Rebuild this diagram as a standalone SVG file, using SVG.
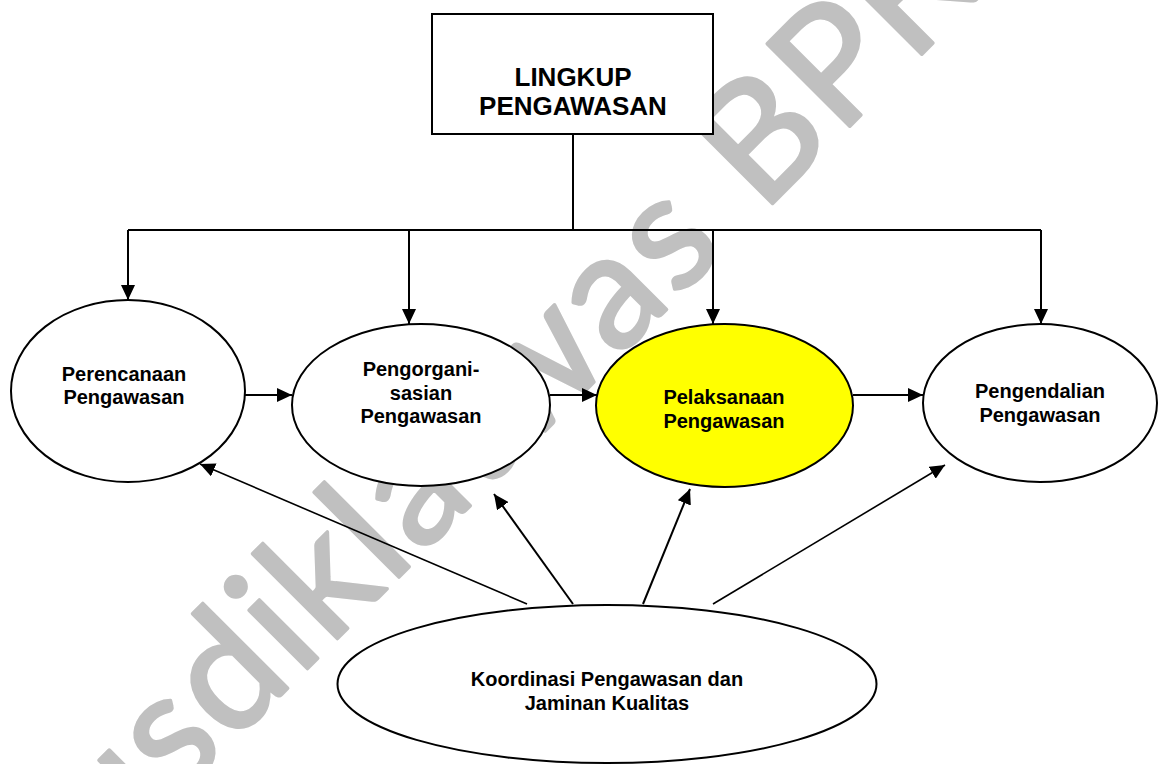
<svg xmlns="http://www.w3.org/2000/svg" width="1161" height="764" viewBox="0 0 1161 764">
<style>
.node{fill:#fff;stroke:#000;stroke-width:2}
.hl{fill:#ffff00}
.lbl{font-family:"Liberation Sans",Arial,sans-serif;font-weight:bold;font-size:20px;fill:#000;text-anchor:middle}
.ttl{font-size:26px}
.con{fill:none;stroke:#000;stroke-width:2}
.thin{stroke-width:1.6}
.wm{font-family:Lato,"Open Sans",sans-serif;font-size:163px;letter-spacing:4px;fill:#c0c0c0;stroke:#c0c0c0;stroke-width:3.5;stroke-linejoin:round}
</style>
<defs>
<marker id="ah" markerUnits="userSpaceOnUse" markerWidth="15" markerHeight="14" refX="15" refY="7" orient="auto">
<path d="M0,0 L15,7 L0,14 z" fill="#000"/>
</marker>
</defs>
<rect width="1161" height="764" fill="#fff"/>
<g id="watermark">
<text class="wm" transform="translate(40,936) rotate(-45)">Pusdiklatwas BPKP</text>
</g>
<g id="lingkup">
<rect class="node" x="432" y="14" width="281" height="120"/>
<text class="lbl ttl" x="573" y="86">LINGKUP</text>
<text class="lbl ttl" x="573" y="115">PENGAWASAN</text>
</g>
<g id="perencanaan">
<ellipse class="node" cx="128" cy="391" rx="117" ry="91"/>
<text class="lbl" x="124" y="381">Perencanaan</text>
<text class="lbl" x="124" y="404">Pengawasan</text>
</g>
<g id="pengorganisasian">
<ellipse class="node" cx="421" cy="405" rx="129" ry="81"/>
<text class="lbl" x="421" y="376">Pengorgani-</text>
<text class="lbl" x="421" y="400">sasian</text>
<text class="lbl" x="421" y="423">Pengawasan</text>
</g>
<g id="pelaksanaan">
<ellipse class="node hl" cx="724.5" cy="405.5" rx="128.5" ry="81.5"/>
<text class="lbl" x="724" y="404">Pelaksanaan</text>
<text class="lbl" x="724" y="428">Pengawasan</text>
</g>
<g id="pengendalian">
<ellipse class="node" cx="1040" cy="403" rx="117" ry="79"/>
<text class="lbl" x="1040" y="398">Pengendalian</text>
<text class="lbl" x="1040" y="422">Pengawasan</text>
</g>
<g id="koordinasi">
<ellipse class="node" cx="607" cy="684" rx="269.5" ry="79"/>
<text class="lbl" x="607" y="686">Koordinasi Pengawasan dan</text>
<text class="lbl" x="607" y="710">Jaminan Kualitas</text>
</g>
<g id="connectors">
<path class="con" d="M573,134 V230 M128,230 H1041"/>
<path class="con" d="M128,230 V300" marker-end="url(#ah)"/>
<path class="con" d="M409,230 V324" marker-end="url(#ah)"/>
<path class="con" d="M713,230 V324" marker-end="url(#ah)"/>
<path class="con" d="M1041,230 V324" marker-end="url(#ah)"/>
<path class="con" d="M245,395 H292" marker-end="url(#ah)"/>
<path class="con" d="M550,395 H597" marker-end="url(#ah)"/>
<path class="con" d="M853,395 H923" marker-end="url(#ah)"/>
<path class="con thin" d="M527,604 L200,464" marker-end="url(#ah)"/>
<path class="con" d="M573,604 L494,494" marker-end="url(#ah)"/>
<path class="con" d="M643,604 L690,489" marker-end="url(#ah)"/>
<path class="con thin" d="M713,604 L945,465" marker-end="url(#ah)"/>
</g>
</svg>
